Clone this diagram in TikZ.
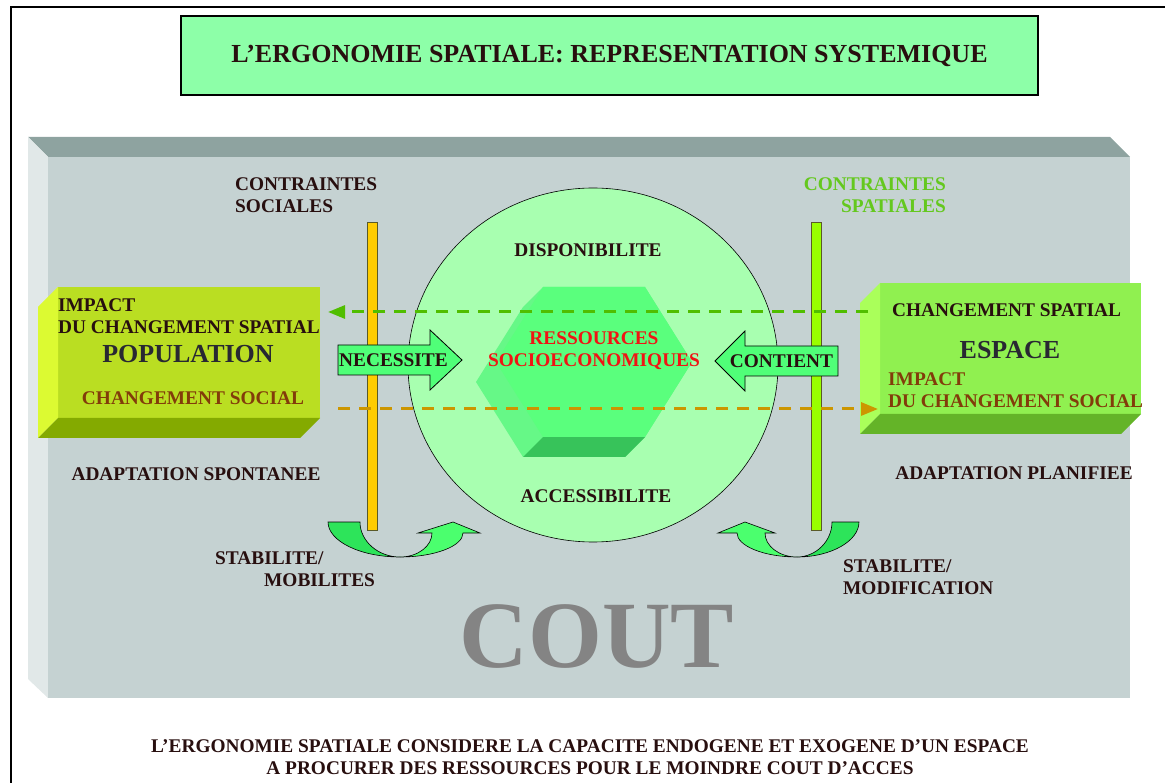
\documentclass[tikz,border=0pt]{standalone}
\usepackage{fontspec}
\setmainfont{Liberation Serif}
\usetikzlibrary{arrows.meta}

\definecolor{titlegreen}{RGB}{141,255,168}
\definecolor{platetop}{RGB}{142,163,160}
\definecolor{plateside}{RGB}{225,232,232}
\definecolor{platefront}{RGB}{197,210,210}
\definecolor{circlegreen}{RGB}{168,255,176}
\definecolor{hexfront}{RGB}{90,255,125}
\definecolor{hexside}{RGB}{102,248,135}
\definecolor{hexbottom}{RGB}{55,195,90}
\definecolor{popfront}{RGB}{186,222,34}
\definecolor{popside}{RGB}{220,250,50}
\definecolor{popbottom}{RGB}{132,170,0}
\definecolor{espfront}{RGB}{144,240,80}
\definecolor{espside}{RGB}{170,255,90}
\definecolor{espbottom}{RGB}{100,180,40}
\definecolor{arrowgreen}{RGB}{80,255,120}
\definecolor{uturndark}{RGB}{45,228,90}
\definecolor{uturnlight}{RGB}{75,255,110}
\definecolor{baryellow}{RGB}{255,204,0}
\definecolor{bargreen}{RGB}{153,255,0}
\definecolor{bardark}{RGB}{90,90,40}
\definecolor{dashgreen}{RGB}{80,190,0}
\definecolor{dashorange}{RGB}{204,150,0}
\definecolor{darktext}{RGB}{40,15,15}
\definecolor{nametext}{RGB}{40,40,50}
\definecolor{browntext}{RGB}{130,60,10}
\definecolor{ressred}{RGB}{240,20,20}
\definecolor{spatialgreen}{RGB}{100,200,30}
\definecolor{coutgrey}{RGB}{132,132,132}

\begin{document}
\begin{tikzpicture}[
  x=1pt,y=-1pt,
  lbl/.style={font=\fontsize{19.35}{22}\selectfont\bfseries,text=darktext,inner sep=0pt},
  bigname/.style={font=\fontsize{26}{28}\selectfont\bfseries,text=nametext,inner sep=0pt},
  frontface/.style={minimum width=262pt,minimum height=131pt,inner sep=0pt,outer sep=0pt},
  blockarrow/.style={draw=black,line width=0.8pt,fill=arrowgreen},
  uturn/.style={draw=black,line width=0.6pt},
  dashline/.style={line width=3pt,dash pattern=on 12pt off 9pt}]
\useasboundingbox (0,0) rectangle (1165,783);
\draw[line width=2pt] (11,783) -- (11,7) -- (1165,7);

\node[draw,line width=1.2pt,fill=titlegreen,minimum width=857pt,minimum height=79pt,inner sep=0pt,
  font=\fontsize{26}{28}\selectfont\bfseries,text=darktext] (title) at (609.5,55.5)
  {L’ERGONOMIE SPATIALE: REPRESENTATION SYSTEMIQUE};

% grey platform
\fill[platetop] (28,137) -- (1110,137) -- (1130,157) -- (48,157) -- cycle;
\fill[plateside] (28,137) -- (48,157) -- (48,698) -- (28,679) -- cycle;
\fill[platefront] (48,157) rectangle (1130,698);

% circle and hexagon
\draw[fill=circlegreen,line width=0.6pt] (593,365) ellipse [x radius=185,y radius=177];
\fill[hexside] (543,287) -- (645,287) -- (692,362) -- (645,437) -- (625,457) -- (523,457) -- (476,382) -- (523,307) -- cycle;
\fill[hexbottom] (543,437) -- (645,437) -- (625,457) -- (523,457) -- cycle;
\fill[hexfront] (543,287) -- (645,287) -- (692,362) -- (645,437) -- (543,437) -- (496,362) -- cycle;
\node[lbl,text=ressred,align=center] (ressources) at (594,351) {RESSOURCES\\SOCIOECONOMIQUES};

% bars
\draw[draw=bardark,fill=baryellow] (367,222) rectangle (377,530);
\draw[draw=bardark,fill=bargreen] (811,222) rectangle (821,530);

% population
\node[frontface,fill=popfront] (population) at (189,352.5) {};
\fill[popside] (population.north west) -- ++(-20,20) -- ([shift={(-20,20)}]population.south west) -- (population.south west) -- cycle;
\fill[popbottom] (population.south west) -- (population.south east) -- ++(-20,20) -- ([shift={(-20,20)}]population.south west) -- cycle;
\node[lbl,align=left,anchor=west] (popimpact) at (58,316.5) {IMPACT\\DU CHANGEMENT SPATIAL};
\node[bigname] (popname) at (188,354.5) {POPULATION};
\node[lbl,text=browntext] (popsocial) at (193,398.5) {CHANGEMENT SOCIAL};

% espace
\node[frontface,fill=espfront,minimum width=261pt] (espace) at (1010.5,348.5) {};
\fill[espside] (espace.north west) -- ++(-20,20) -- ([shift={(-20,20)}]espace.south west) -- (espace.south west) -- cycle;
\fill[espbottom] (espace.south west) -- (espace.south east) -- ++(-20,20) -- ([shift={(-20,20)}]espace.south west) -- cycle;
\node[lbl] (espspatial) at (1006.5,310.5) {CHANGEMENT SPATIAL};
\node[bigname] (espname) at (1010,350) {ESPACE};
\node[lbl,text=browntext,align=left,anchor=west] (espimpact) at (888,390.5) {IMPACT\\DU CHANGEMENT SOCIAL};

% dashed links
\coordinate (spatialfrom) at (868,312);
\coordinate (spatialto) at (328,312);
\coordinate (socialfrom) at (338,409);
\coordinate (socialto) at (878,409);
\draw[dashline,draw=dashgreen,-{Triangle[length=17pt,width=13pt]}] (spatialfrom) -- (spatialto);
\draw[dashline,draw=dashorange,-{Triangle[length=17pt,width=13pt]}] (socialfrom) -- (socialto);

% block arrows
\draw[blockarrow] (338,345) -- (430,345) -- (430,330) -- (462,360) -- (430,390) -- (430,375) -- (338,375) -- cycle;
\node[lbl] (necessite) at (393.5,360) {NECESSITE};
\draw[blockarrow] (838,346) -- (745,346) -- (745,331) -- (715,361) -- (745,391) -- (745,376) -- (838,376) -- cycle;
\node[lbl] (contient) at (781.5,361) {CONTIENT};

% u-turn arrows
\draw[uturn,fill=uturndark] (328,522) -- (360,522) .. controls (360,541) and (378,557) .. (400,557)
  .. controls (360,557) and (328,541) .. (328,522) -- cycle;
\draw[uturn,fill=uturnlight] (400,557) .. controls (435,557) and (463,546) .. (463,533) -- (480,533) -- (453,522)
  -- (418,533) -- (432,533) .. controls (432,546) and (418,557) .. (400,557) -- cycle;
\draw[uturn,fill=uturndark] (859,522) -- (832,522) .. controls (832,541) and (816,557) .. (797,557)
  .. controls (831,557) and (859,541) .. (859,522) -- cycle;
\draw[uturn,fill=uturnlight] (797,557) .. controls (764,557) and (737,546) .. (737,533) -- (718,533) -- (745,522)
  -- (775,533) -- (765,533) .. controls (765,546) and (779,557) .. (797,557) -- cycle;

% labels
\node[lbl,align=left,anchor=west] (csociales) at (235,195) {CONTRAINTES\\SOCIALES};
\node[lbl,text=spatialgreen,align=right,anchor=east] (cspatiales) at (946,195) {CONTRAINTES\\SPATIALES};
\node[lbl] (dispo) at (588,250) {DISPONIBILITE};
\node[lbl] (access) at (596,496) {ACCESSIBILITE};
\node[lbl] (spontanee) at (196,474) {ADAPTATION SPONTANEE};
\node[lbl] (planifiee) at (1014,473) {ADAPTATION PLANIFIEE};
\node[lbl,align=left,anchor=west] (mobilites) at (215,569) {STABILITE/\\\hspace*{49pt}MOBILITES};
\node[lbl,align=left,anchor=west] (modification) at (843,577) {STABILITE/\\MODIFICATION};
\node[font=\fontsize{95}{95}\selectfont\bfseries,text=coutgrey,inner sep=0pt] (cout) at (597,637) {COUT};
\node[lbl,align=center] (conclusion) at (590,757.5)
  {L’ERGONOMIE SPATIALE CONSIDERE LA CAPACITE ENDOGENE ET EXOGENE D’UN ESPACE\\A PROCURER DES RESSOURCES POUR LE MOINDRE COUT D’ACCES};
\end{tikzpicture}
\end{document}
